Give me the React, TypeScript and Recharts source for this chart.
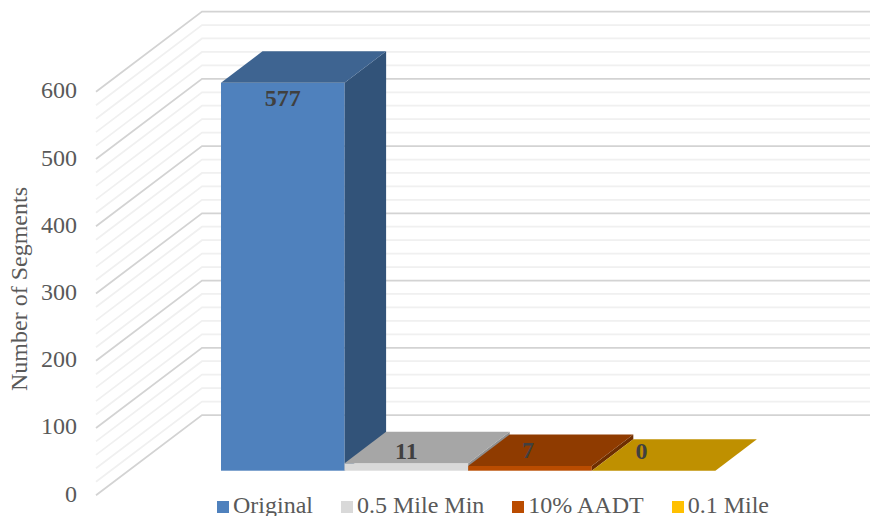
import { BarChart, Bar, XAxis, YAxis, Legend, LabelList } from 'recharts'

const categories = ['Segments']
const seriesNames = ['Original', '0.5 Mile Min', '10% AADT', '0.1 Mile']
const seriesValues = [577, 11, 7, 0]
const yMajorTicks = [0, 100, 200, 300, 400, 500, 600]
const yAllTicks = [
  0, 20, 40, 60, 80, 100, 120, 140, 160, 180, 200, 220, 240, 260, 280, 300, 320, 340, 360, 380, 400, 420, 440, 460,
  480, 500, 520, 540, 560, 580, 600,
]

const rows = categories.map((name) => {
  const row: Record<string, string | number> = { name }
  seriesNames.forEach((s, i) => (row[s] = seriesValues[i]))
  return row
})

// face colours + where Excel happened to drop each data label
const looks = [
  { front: '#4F81BD', top: '#3E6491', side: '#325379', legend: '#4F81BD', dx: 0, dy: 18 },
  { front: '#D9D9D9', top: '#A6A6A6', side: '#8F8F8F', legend: '#D9D9D9', dx: 0, dy: -10 },
  { front: '#BA4C00', top: '#8F3B00', side: '#6E2E00', legend: '#BA4C00', dx: -2, dy: -13 },
  { front: '#FFC000', top: '#BF9000', side: '#9A7400', legend: '#FFC000', dx: -12, dy: -17 },
]

const DEPTH_X = 41.5
const DEPTH_Y = 31.5
const FONT = '"Liberation Serif", "Times New Roman", serif'
const MARGIN = { top: 67.3, right: 62, bottom: 45.3, left: 68 }

const cuboid = (look: (typeof looks)[number]) => (props: any) => {
  const { x, y, width: w, height: h } = props
  const pts = (p: number[][]) => p.map((a) => a.join(',')).join(' ')
  return (
    <g>
      {h > 0 && <rect x={x} y={y} width={w} height={h} fill={look.front} />}
      {h > 0 && (
        <polygon
          points={pts([
            [x + w, y],
            [x + w + DEPTH_X, y - DEPTH_Y],
            [x + w + DEPTH_X, y + h - DEPTH_Y],
            [x + w, y + h],
          ])}
          fill={look.side}
        />
      )}
      <polygon
        points={pts([
          [x, y],
          [x + DEPTH_X, y - DEPTH_Y],
          [x + w + DEPTH_X, y - DEPTH_Y],
          [x + w, y],
        ])}
        fill={look.top}
      />
    </g>
  )
}

// wall lines go with the ticks so they follow the y scale
const WallTick = (props: any) => {
  const { y, payload } = props
  const major = yMajorTicks.includes(payload.value)
  const stroke = major ? '#D3D3D3' : '#F0F0F0'
  const backY = y - 55.7
  const frontY = y + 24.5
  return (
    <g>
      <polyline
        points={`96,${frontY} 202,${backY} 870,${backY}`}
        fill="none"
        stroke={stroke}
        strokeWidth={1.75}
      />
      {major && (
        <text x={77} y={frontY} dy={1} textAnchor="end" dominantBaseline="middle" fontSize={24} fontFamily={FONT} fill="#595959">
          {payload.value}
        </text>
      )}
    </g>
  )
}

const valueLabel = (look: (typeof looks)[number]) => (props: any) => {
  const { x, y, width, value } = props
  return (
    <text
      x={x + width / 2 + look.dx}
      y={y + look.dy}
      textAnchor="middle"
      dominantBaseline="middle"
      fontSize={24}
      fontWeight="bold"
      fontFamily={FONT}
      fill="#404040"
    >
      {value}
    </text>
  )
}

const layer = { position: 'absolute', left: 0, top: 0 } as const

export default function App() {
  return (
    <div style={{ ...layer, width: 870, height: 516, background: '#fff', overflow: 'hidden' }}>
      {/* walls sit in their own chart underneath, axis ticks otherwise paint over the bars */}
      <div style={layer}>
        <BarChart width={870} height={516} data={rows} margin={MARGIN}>
          <XAxis dataKey="name" hide />
          <YAxis
            domain={[0, 600]}
            ticks={yAllTicks}
            interval={0}
            width={60}
            axisLine={false}
            tickLine={false}
            tick={WallTick}
            label={{
              value: 'Number of Segments',
              angle: -90,
              position: 'insideLeft',
              dx: -55,
              dy: 20,
              style: { fontSize: 24, fontFamily: FONT, fill: '#595959', textAnchor: 'middle' },
            }}
          />
          <Bar dataKey={seriesNames[0]} fill="none" isAnimationActive={false} />
        </BarChart>
      </div>
      <div style={layer}>
        {/* hidden y axis takes no room, so the left margin carries its 60px */}
        <BarChart width={870} height={516} data={rows} barGap={0} barSize={123.6} margin={{ ...MARGIN, left: 128 }}>
          <XAxis dataKey="name" hide />
          <YAxis domain={[0, 600]} hide />
          <Legend
            verticalAlign="middle"
            iconType="square"
            iconSize={12}
            itemSorter={null}
            wrapperStyle={{ top: 492, left: 214, width: 586, fontSize: 24, fontFamily: FONT }}
            formatter={(v) => <span style={{ color: '#595959', paddingRight: 18 }}>{v}</span>}
          />
          {seriesNames.map((s, i) => (
            <Bar key={s} dataKey={s} name={s} fill={looks[i].legend} shape={cuboid(looks[i])} isAnimationActive={false}>
              <LabelList dataKey={s} content={valueLabel(looks[i])} />
            </Bar>
          ))}
        </BarChart>
      </div>
    </div>
  )
}
